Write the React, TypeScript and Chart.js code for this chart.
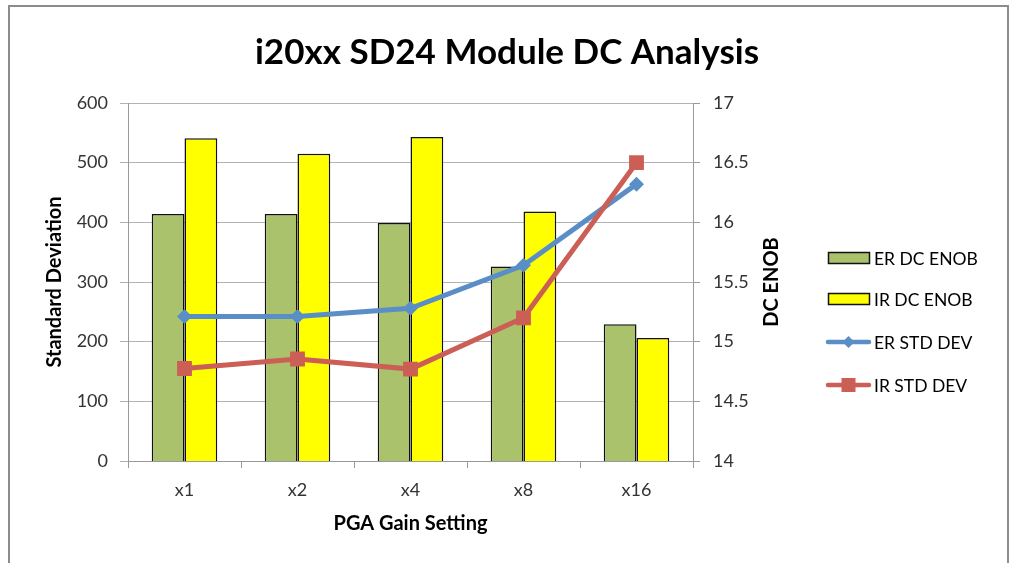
import React, { useEffect, useRef } from "react";
import { Chart, registerables } from "chart.js";

Chart.register(...registerables);

const categories = ["x1", "x2", "x4", "x8", "x16"];
const erEnob = [16.07, 16.07, 15.995, 15.63, 15.145];
const irEnob = [16.705, 16.575, 16.715, 16.09, 15.03];
const erStd = [242, 242, 256, 328, 464];
const irStd = [155, 171, 154, 240, 500];

const FONT = "Lato";
const GREEN = "#A9C26B";
const YELLOW = "#FFFF00";
const BLUE = "#5A8EC7";
const RED = "#CB5F56";
const TITLE = "i20xx SD24 Module DC Analysis";

const legendItems = [
  { label: "ER DC ENOB", kind: "bar", color: GREEN, y: 258 },
  { label: "IR DC ENOB", kind: "bar", color: YELLOW, y: 299 },
  { label: "ER STD DEV", kind: "diamond", color: BLUE, y: 342 },
  { label: "IR STD DEV", kind: "square", color: RED, y: 385 },
];

const decorPlugin = {
  id: "decor",
  beforeDraw(chart: any) {
    const ctx = chart.ctx;
    ctx.save();
    ctx.fillStyle = "#fff";
    ctx.fillRect(0, 0, chart.width, chart.height);
    ctx.strokeStyle = "#8c8c8c";
    ctx.lineWidth = 2;
    ctx.strokeRect(9, 6, 999, 620);
    ctx.restore();
  },
  afterDraw(chart: any) {
    const ctx = chart.ctx;
    const area = chart.chartArea;
    ctx.save();
    ctx.font = `bold 35px ${FONT}`;
    ctx.fillStyle = "#000";
    ctx.textAlign = "center";
    ctx.textBaseline = "middle";
    ctx.fillText(TITLE, 507, 53);
    ctx.restore();

    ctx.save();
    // right axis title
    ctx.translate(772, (area.top + area.bottom) / 2);
    ctx.rotate(-Math.PI / 2);
    ctx.font = `bold 20px ${FONT}`;
    ctx.fillStyle = "#000";
    ctx.textAlign = "center";
    ctx.textBaseline = "middle";
    ctx.fillText("DC ENOB", 0, 0);
    ctx.restore();

    ctx.save();
    ctx.font = `17.5px ${FONT}`;
    ctx.textBaseline = "middle";
    ctx.textAlign = "left";
    const x0 = 828;
    const w = 41;
    for (const it of legendItems) {
      if (it.kind === "bar") {
        ctx.fillStyle = it.color;
        ctx.fillRect(x0, it.y - 6, w, 12);
        ctx.strokeStyle = "#111";
        ctx.lineWidth = 1.5;
        ctx.strokeRect(x0 + 0.5, it.y - 5.5, w, 11);
      } else {
        ctx.strokeStyle = it.color;
        ctx.lineWidth = 4.5;
        ctx.lineCap = "round";
        ctx.beginPath();
        ctx.moveTo(x0, it.y);
        ctx.lineTo(x0 + w, it.y);
        ctx.stroke();
        ctx.fillStyle = it.color;
        const cx = x0 + w / 2;
        if (it.kind === "diamond") {
          ctx.beginPath();
          ctx.moveTo(cx - 6, it.y);
          ctx.lineTo(cx, it.y - 6);
          ctx.lineTo(cx + 6, it.y);
          ctx.lineTo(cx, it.y + 6);
          ctx.closePath();
          ctx.fill();
        } else {
          ctx.fillRect(cx - 7, it.y - 7, 14, 14);
        }
      }
      ctx.fillStyle = "#000";
      ctx.fillText(it.label, 874, it.y + 1);
    }
    ctx.restore();
  },
};

export default function App() {
  const ref = useRef<HTMLCanvasElement>(null);
  useEffect(() => {
    if (!ref.current) return;
    const chart = new Chart(ref.current, {
      type: "bar",
      data: {
        labels: categories,
        datasets: [
          {
            type: "line",
            label: "IR STD DEV",
            data: irStd,
            yAxisID: "y",
            borderColor: RED,
            backgroundColor: RED,
            borderWidth: 5,
            pointStyle: "rect",
            pointRadius: 10.5,
            pointBorderWidth: 0,
            order: 0,
          },
          {
            type: "line",
            label: "ER STD DEV",
            data: erStd,
            yAxisID: "y",
            borderColor: BLUE,
            backgroundColor: BLUE,
            borderWidth: 5,
            pointStyle: "rectRot",
            pointRadius: 7.5,
            pointBorderWidth: 0,
            order: 1,
          },
          {
            type: "bar",
            label: "ER DC ENOB",
            data: erEnob,
            yAxisID: "y1",
            backgroundColor: GREEN,
            borderColor: "#111",
            borderWidth: 1.5,
            borderSkipped: false,
            categoryPercentage: 0.58,
            barPercentage: 1,
            order: 2,
          },
          {
            type: "bar",
            label: "IR DC ENOB",
            data: irEnob,
            yAxisID: "y1",
            backgroundColor: YELLOW,
            borderColor: "#111",
            borderWidth: 1.5,
            borderSkipped: false,
            categoryPercentage: 0.58,
            barPercentage: 1,
            order: 3,
          },
        ],
      },
      options: {
        animation: false,
        responsive: false,
        maintainAspectRatio: false,
        layout: { padding: { left: 10, right: 218, top: 103, bottom: 17 } },
        plugins: {
          legend: { display: false },
          tooltip: { enabled: false },
          title: { display: false },
        },
        scales: {
          x: {
            type: "category",
            offset: true,
            grid: { drawOnChartArea: false, offset: true, tickLength: 7, color: "#999" },
            border: { color: "#999" },
            ticks: { font: { family: FONT, size: 18 }, color: "#333", padding: 11 },
            title: {
              display: true,
              text: "PGA Gain Setting",
              font: { family: FONT, size: 20, weight: "bold" },
              color: "#000",
              padding: { top: 0, bottom: 10 },
            },
            afterFit: (s: any) => {
              s.height = 85;
            },
          },
          y: {
            position: "left",
            min: 0,
            max: 600,
            ticks: { stepSize: 100, font: { family: FONT, size: 18 }, color: "#333", padding: 12 },
            grid: { color: "#b3b3b3", tickLength: 8 },
            border: { color: "#999" },
            title: {
              display: true,
              text: "Standard Deviation",
              font: { family: FONT, size: 20, weight: "bold" },
              color: "#000",
              padding: { top: 33, bottom: 0 },
            },
            afterFit: (s: any) => {
              s.width = 118;
            },
          },
          y1: {
            position: "right",
            min: 14,
            max: 17,
            ticks: {
              stepSize: 0.5,
              font: { family: FONT, size: 18 },
              color: "#333",
              padding: 13,
              callback: (v: any) => String(Number(v)),
            },
            grid: { drawOnChartArea: false, color: "#999", tickLength: 7 },
            border: { color: "#999" },
            afterFit: (s: any) => {
              s.width = 100;
            },
          },
        },
      },
      plugins: [decorPlugin],
    } as any);
    return () => chart.destroy();
  }, []);
  return (
    <div style={{ position: "fixed", left: 0, top: 0, width: 1011, height: 563, background: "#fff" }}>
      <canvas ref={ref} width={1011} height={563} style={{ width: 1011, height: 563, display: "block" }} />
    </div>
  );
}
